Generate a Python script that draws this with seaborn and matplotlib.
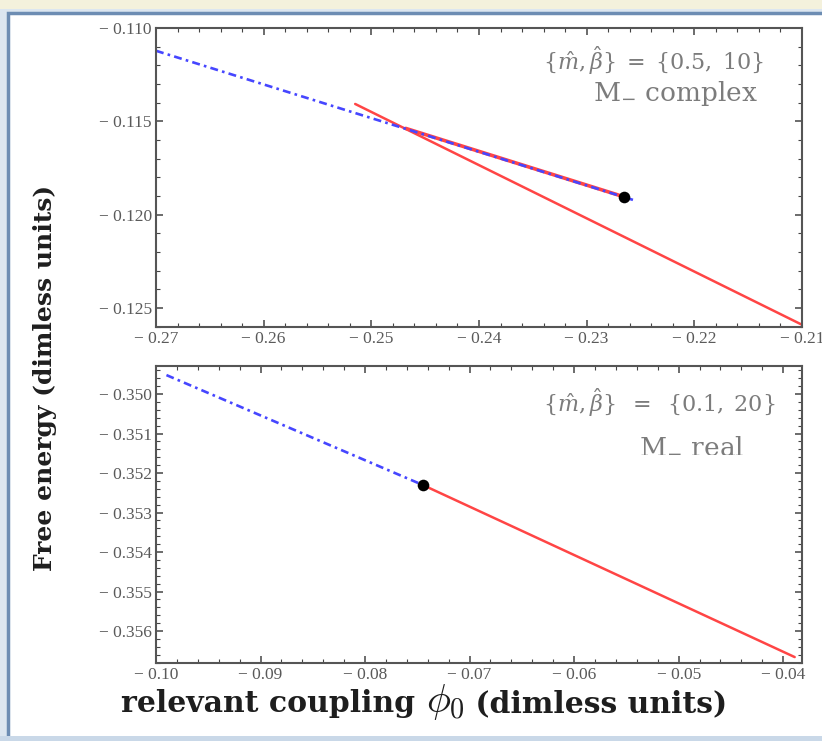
import numpy as np
import pandas as pd
import matplotlib
matplotlib.use("Agg")
import matplotlib.pyplot as plt
import seaborn as sns
from matplotlib.ticker import MultipleLocator, FuncFormatter
from matplotlib.patches import Rectangle
from matplotlib.offsetbox import TextArea, HPacker, AnchoredOffsetbox

# ---- data ----
# top panel  {m, beta} = {0.5, 10}
top_blue_x = [-0.2700, -0.2257]
top_blue_y = [-0.11122, -0.11921]
top_red_low_x = [-0.2515, -0.2100]
top_red_low_y = [-0.11407, -0.12590]
top_red_up_x = [-0.2468, -0.2265]
top_red_up_y = [-0.11538, -0.11905]
top_dot_x = [-0.2265]
top_dot_y = [-0.11905]

# bottom panel  {m, beta} = {0.1, 20}
bot_blue_x = [-0.0990, -0.0745]
bot_blue_y = [-0.34952, -0.35230]
bot_red_x = [-0.0745, -0.0389]
bot_red_y = [-0.35230, -0.35666]
bot_dot_x = [-0.0745]
bot_dot_y = [-0.35230]

W, H = 822, 741
sns.set_style("ticks")
plt.rcParams["font.family"] = ["Liberation Serif", "DejaVu Serif"]
plt.rcParams["mathtext.fontset"] = "dejavuserif"

fig = plt.figure(figsize=(W / 100, H / 100), dpi=100)
fig.patch.set_facecolor("#dce6f0")
# window-like frame
fig.patches.append(Rectangle((8 / W, 0.0), 1.0, 1 - 13 / H, transform=fig.transFigure,
                             facecolor="white", edgecolor="#6d8db3", linewidth=2.5, zorder=-3))
fig.patches.append(Rectangle((0, 1 - 9 / H), 1.0, 9 / H, transform=fig.transFigure,
                             facecolor="#f4f1dc", edgecolor="none", zorder=-3))
fig.patches.append(Rectangle((0, 0), 1.0, 5 / H, transform=fig.transFigure,
                             facecolor="#c9d8e8", edgecolor="none", zorder=-2))


def px_axes(left, top, right, bottom):
    return fig.add_axes([left / W, 1 - bottom / H, (right - left) / W, (bottom - top) / H])


ax1 = px_axes(156, 28, 802, 327)
ax2 = px_axes(156, 366, 802, 663)

red = "#ff4545"
blue = "#4646ff"
dashdot = (3, 1.6, 1, 1.6)

# top panel
sns.lineplot(x=top_red_low_x, y=top_red_low_y, ax=ax1, color=red, lw=1.8, sort=False)
sns.lineplot(x=top_red_up_x, y=top_red_up_y, ax=ax1, color=red, lw=2.6, sort=False)
sns.lineplot(x=top_blue_x, y=top_blue_y, ax=ax1, color=blue, lw=1.9, sort=False)
ax1.lines[-1].set_dashes(dashdot)
sns.scatterplot(x=top_dot_x, y=top_dot_y, ax=ax1, color="black", s=70, zorder=5, linewidth=0)

# bottom panel
sns.lineplot(x=bot_red_x, y=bot_red_y, ax=ax2, color=red, lw=1.8, sort=False)
sns.lineplot(x=bot_blue_x, y=bot_blue_y, ax=ax2, color=blue, lw=1.9, sort=False)
ax2.lines[-1].set_dashes(dashdot)
sns.scatterplot(x=bot_dot_x, y=bot_dot_y, ax=ax2, color="black", s=70, zorder=5, linewidth=0)

ax1.set_xlim(-0.27, -0.21)
ax1.set_ylim(-0.12602, -0.110)
ax2.set_xlim(-0.10, -0.0382)
ax2.set_ylim(-0.35681, -0.34929)

fmt = lambda d: FuncFormatter(lambda v, p: ("\u2212 " if v < 0 else "") + f"{abs(v):.{d}f}")
ax1.xaxis.set_major_locator(MultipleLocator(0.01))
ax1.xaxis.set_minor_locator(MultipleLocator(0.002))
ax1.yaxis.set_major_locator(MultipleLocator(0.005))
ax1.yaxis.set_minor_locator(MultipleLocator(0.001))
ax1.xaxis.set_major_formatter(fmt(2))
ax1.yaxis.set_major_formatter(fmt(3))
ax2.xaxis.set_major_locator(MultipleLocator(0.01))
ax2.xaxis.set_minor_locator(MultipleLocator(0.002))
ax2.yaxis.set_major_locator(MultipleLocator(0.001))
ax2.yaxis.set_minor_locator(MultipleLocator(0.0002))
ax2.xaxis.set_major_formatter(fmt(2))
ax2.yaxis.set_major_formatter(fmt(3))

for ax in (ax1, ax2):
    ax.set_xlabel("")
    ax.set_ylabel("")
    for s in ax.spines.values():
        s.set_visible(True)
        s.set_color("#555555")
        s.set_linewidth(1.5)
    ax.tick_params(which="both", direction="in", top=True, right=True, color="#444444")
    ax.tick_params(which="major", length=5, width=1.1, labelsize=12.5, labelcolor="#5a5a5a", pad=3)
    ax.tick_params(which="minor", length=3, width=0.8)

# annotations
ann = dict(color="#7c7c7c", ha="right", math_fontfamily="dejavuserif")
fig.text(764 / W, 1 - 61 / H, r"$\{\hat{m},\hat{\beta}\}\;=\;\{0.5,\;10\}$", fontsize=16,
         va="center", **ann)
fig.text(758 / W, 1 - 101 / H, r"M$_{-}$ complex", fontsize=19, va="baseline",
         family=["DejaVu Serif"], **ann)
fig.text(775 / W, 1 - 403 / H, r"$\{\hat{m},\hat{\beta}\}\;\;=\;\;\{0.1,\;20\}$", fontsize=16,
         va="center", **ann)
fig.text(744 / W, 1 - 452 / H, r"M$_{-}$ real", fontsize=19, va="baseline",
         family=["DejaVu Serif"], **ann)

# axis titles
fig.text(45 / W, 1 - 378 / H, "Free energy (dimless units)", rotation=90, ha="center",
         va="center", fontsize=18, fontweight="bold", family=["DejaVu Serif"], color="#1e1e1e")
lab = dict(fontsize=21.5, fontweight="bold", family=["DejaVu Serif"], color="#1e1e1e")
xlab = HPacker(children=[TextArea("relevant coupling ", textprops=lab),
                         TextArea(r"$\phi_0$", textprops=dict(fontsize=29, color="#1e1e1e",
                                                               math_fontfamily="cm")),
                         TextArea(" (dimless units)", textprops=lab)],
               align="baseline", pad=0, sep=0)
fig.add_artist(AnchoredOffsetbox(loc="center", child=xlab, frameon=False, pad=0, borderpad=0,
                                 bbox_to_anchor=(424 / W, 1 - 702 / H),
                                 bbox_transform=fig.transFigure))

fig.savefig("out.png", dpi=100, facecolor=fig.get_facecolor())
